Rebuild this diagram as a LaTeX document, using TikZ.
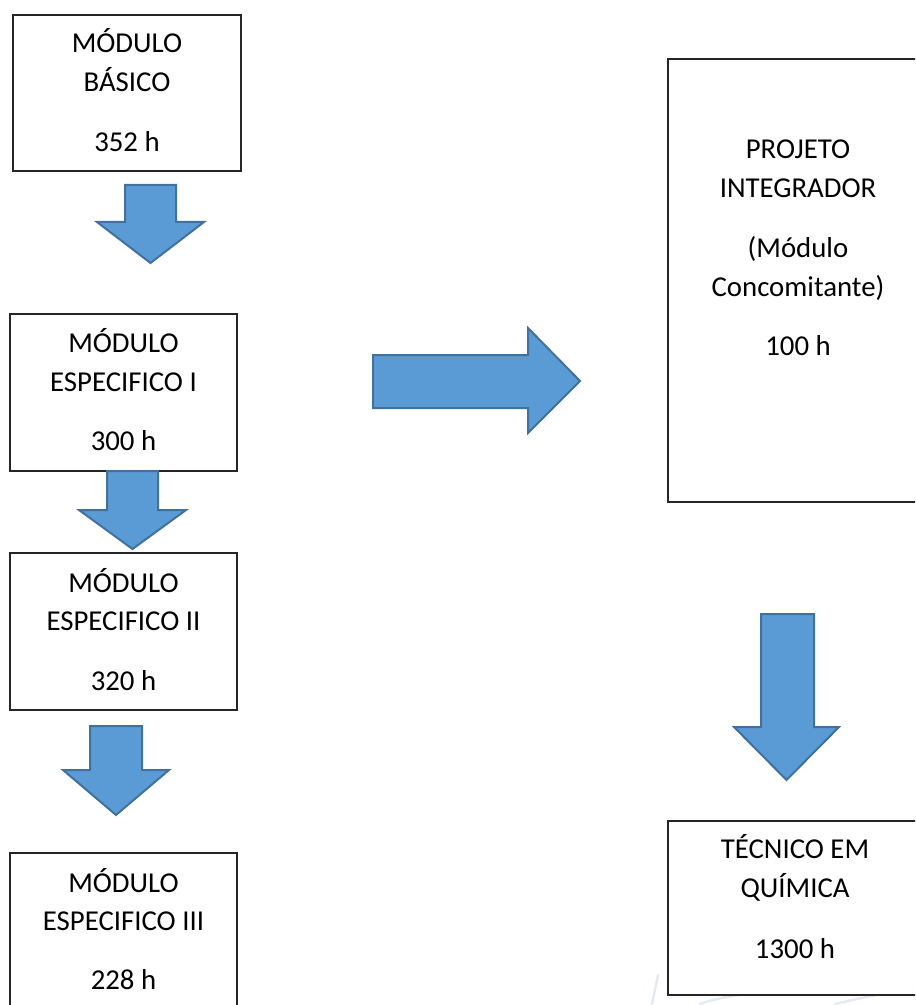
\documentclass[tikz,border=0pt]{standalone}
\usepackage{fontspec}
\setmainfont{Carlito}
\definecolor{arrowfill}{HTML}{5B9BD5}
\definecolor{arrowedge}{HTML}{41719C}
\definecolor{wmark}{HTML}{E4EAF1}
\begin{document}
\begin{tikzpicture}[x=0.5pt,y=-0.5pt,
  box/.style={draw=black!85, line width=0.75pt, fill=white, inner sep=0pt},
  txt/.style={anchor=base, inner sep=0pt, font=\fontsize{14.4}{17}\selectfont, text=black},
  blockarrow/.style={fill=arrowfill, draw=arrowedge, line width=1pt, line join=miter},
  wm/.style={draw=wmark, line width=1.2pt, line cap=round}]
\useasboundingbox (0,0) rectangle (915,1005);
\clip (0,0) rectangle (915,1005);
\fill[white] (0,0) rectangle (915,1005);

% faint watermark strokes
\draw[wm] (652,1004) -- (658,975);
\draw[wm] (700,1004) .. controls (720,996) and (760,992) .. (790,990);
\draw[wm] (835,1004) .. controls (860,998) and (890,992) .. (915,988);

% boxes
\node[box, minimum width=114pt, minimum height=78pt] (basico) at (127,93) {};
\node[box, minimum width=113.5pt, minimum height=78.5pt] (esp1) at (123.5,392.5) {};
\node[box, minimum width=113.5pt, minimum height=78.5pt] (esp2) at (123.5,631.5) {};
\node[box, minimum width=113.5pt, minimum height=78.5pt] (esp3) at (123.5,931.5) {};
\node[box, minimum width=130pt, minimum height=221.5pt] (proj) at (798,280.5) {};
\node[box, minimum width=127pt, minimum height=87pt] (tec) at (795,908) {};

% texts
\node[txt] (t1a) at (127,53) {MÓDULO};
\node[txt] (t1b) at (127,92) {BÁSICO};
\node[txt] (t1c) at (127,152) {352 h};

\node[txt] (t2a) at (123.5,352) {MÓDULO};
\node[txt] (t2b) at (123.5,391) {ESPECIFICO I};
\node[txt] (t2c) at (123.5,450) {300 h};

\node[txt] (t3a) at (123.5,592) {MÓDULO};
\node[txt] (t3b) at (123.5,630) {ESPECIFICO II};
\node[txt] (t3c) at (123.5,690) {320 h};

\node[txt] (t4a) at (123.5,892) {MÓDULO};
\node[txt] (t4b) at (123.5,930) {ESPECIFICO III};
\node[txt] (t4c) at (123.5,989) {228 h};

\node[txt] (p1) at (798,159) {PROJETO};
\node[txt] (p2) at (798,198) {INTEGRADOR};
\node[txt] (p3) at (798,258) {(Módulo};
\node[txt] (p4) at (798,297) {Concomitante)};
\node[txt] (p5) at (798,356) {100 h};

\node[txt] (q1) at (795,858) {TÉCNICO EM};
\node[txt] (q2) at (795,897) {QUÍMICA};
\node[txt] (q3) at (795,958) {1300 h};

% block arrows
\draw[blockarrow] (125,185) -- (176,185) -- (176,222) -- (204,222) -- (150.5,263)
  -- (97,222) -- (125,222) -- cycle;
\draw[blockarrow] (107,471) -- (158,471) -- (158,510) -- (186,510) -- (132.5,549)
  -- (79,510) -- (107,510) -- cycle;
\draw[blockarrow] (90,726) -- (142,726) -- (142,770) -- (169,770) -- (116,815)
  -- (63,770) -- (90,770) -- cycle;
\draw[blockarrow] (373,355) -- (528,355) -- (528,328) -- (580,381) -- (528,433)
  -- (528,408) -- (373,408) -- cycle;
\draw[blockarrow] (761,614) -- (814,614) -- (814,727) -- (839,727) -- (786.5,780)
  -- (734,727) -- (761,727) -- cycle;
\end{tikzpicture}
\end{document}
